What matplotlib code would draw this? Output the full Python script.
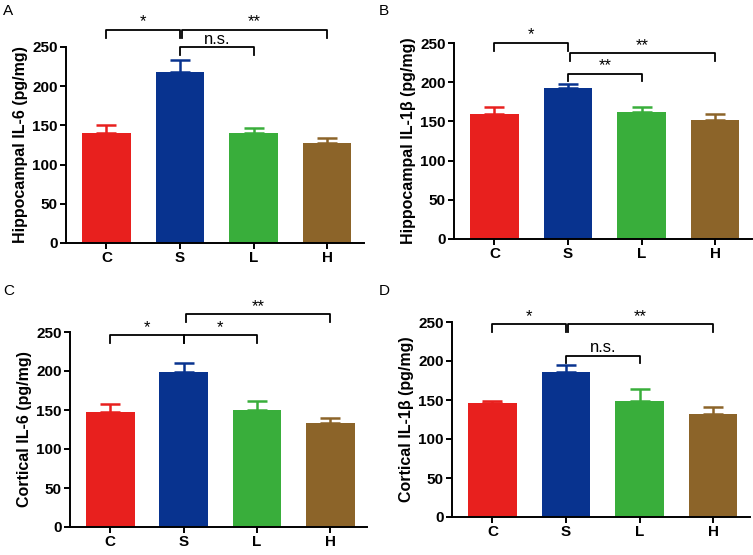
import matplotlib
matplotlib.use("Agg")
import matplotlib.pyplot as plt

plt.rcParams['font.family'] = ['Liberation Sans', 'DejaVu Sans']

groups = ["C", "S", "L", "H"]
colors = ["#E8201E", "#08338F", "#39AE3B", "#8C6429"]

# panel A: hippocampal IL-6
hip_il6 = [140, 218, 140, 128]
hip_il6_err = [10, 16, 7, 6]
# panel B: hippocampal IL-1b
hip_il1b = [160, 193, 162, 152]
hip_il1b_err = [8, 5, 7, 7]
# panel C: cortical IL-6
cor_il6 = [147, 199, 150, 133]
cor_il6_err = [11, 11, 11, 7]
# panel D: cortical IL-1b
cor_il1b = [146, 186, 149, 132]
cor_il1b_err = [3, 9, 15, 9]

# brackets: (from group, to group, height, label)
sig_a = [(0, 1, 272, "*"), (1, 3, 272, "**"), (1, 2, 250, "n.s.")]
sig_b = [(0, 1, 250, "*"), (1, 3, 237, "**"), (1, 2, 211, "**")]
sig_c = [(0, 1, 246, "*"), (1, 2, 246, "*"), (1, 3, 273, "**")]
sig_d = [(0, 1, 247, "*"), (1, 3, 247, "**"), (1, 2, 207, "n.s.")]

panels = [
    ("A", "Hippocampal IL-6 (pg/mg)", hip_il6, hip_il6_err, sig_a, [66, 243, 364, 47]),
    ("B", "Hippocampal IL-1\u03b2 (pg/mg)", hip_il1b, hip_il1b_err, sig_b, [454, 239, 752, 43]),
    ("C", "Cortical IL-6 (pg/mg)", cor_il6, cor_il6_err, sig_c, [70, 527, 367, 332]),
    ("D", "Cortical IL-1\u03b2 (pg/mg)", cor_il1b, cor_il1b_err, sig_d, [452, 517, 750, 322]),
]
letter_pos = {"A": (3, 4), "B": (379, 4), "C": (3, 284), "D": (379, 284)}

W, H = 753, 555
fig = plt.figure(figsize=(W / 100, H / 100), dpi=100)

for letter, ylab, vals, errs, sigs, box in panels:
    l, b, r, t = box
    ax = fig.add_axes([l / W, (H - b) / H, (r - l) / W, (b - t) / H])
    x = list(range(len(groups)))
    ax.bar(x, vals, width=0.66, color=colors, zorder=2)
    for xi, v, e, c in zip(x, vals, errs, colors):
        ax.errorbar(xi, v, yerr=[[0], [e]], color=c, capsize=7.5,
                    elinewidth=1.8, capthick=1.8, zorder=1)
    ax.set_xlim(-0.55, 3.5)
    ax.set_ylim(0, 250)
    ax.set_yticks([0, 50, 100, 150, 200, 250])
    ax.set_xticks(x)
    ax.set_xticklabels(groups)
    for s in ["top", "right"]:
        ax.spines[s].set_visible(False)
    for s in ["left", "bottom"]:
        ax.spines[s].set_linewidth(1.4)
    ax.tick_params(width=1.4, length=4, labelsize=11, pad=2)
    for lab in ax.get_xticklabels() + ax.get_yticklabels():
        lab.set_fontweight("bold")
    ax.set_ylabel(ylab, fontsize=11.5, fontweight="bold", labelpad=3)

    for g1, g2, hgt, txt in sigs:
        x1 = g1 + (0.03 if g1 == 1 and g2 == 3 else 0)
        x2 = g2
        leg = 10
        ax.plot([x1, x1, x2, x2], [hgt - leg, hgt, hgt, hgt - leg],
                color="black", lw=1.3, clip_on=False)
        ax.text((x1 + x2) / 2, hgt + 0.5, txt, ha="center", va="bottom",
                fontsize=12, clip_on=False)

    lx, ly = letter_pos[letter]
    fig.text(lx / W, 1 - ly / H, letter, ha="left", va="top", fontsize=11)

fig.savefig("out.png", dpi=100)
